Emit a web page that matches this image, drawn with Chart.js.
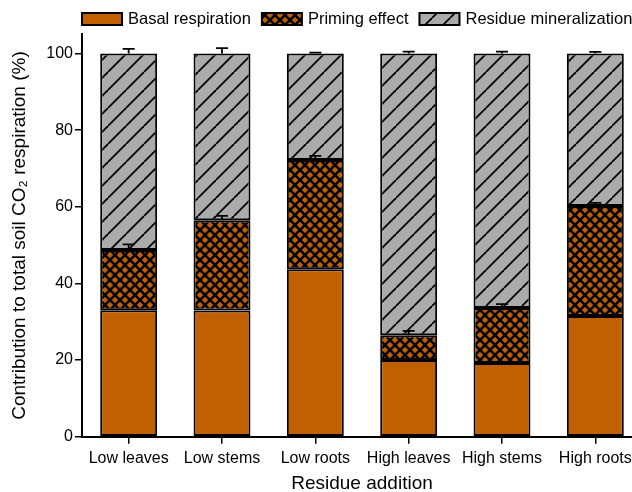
<!DOCTYPE html>
<html>
<head>
<meta charset="utf-8">
<script src="https://cdn.jsdelivr.net/npm/chart.js@4"></script>
<style>
  html, body { margin: 0; padding: 0; background: #ffffff; overflow: hidden; }
  #wrap { width: 632px; height: 492px; overflow: hidden; }
  #c { display: block; }
</style>
</head>
<body>
<div id="wrap"><canvas id="c" width="642" height="492"></canvas></div>
<script>
// ---- data ----
const categories = ['Low leaves', 'Low stems', 'Low roots', 'High leaves', 'High stems', 'High roots'];
const seriesNames = ['Basal respiration', 'Priming effect', 'Residue mineralization'];
const basal = [33.0, 32.9, 43.7, 20.0, 19.2, 31.5];
const priming = [15.7, 23.6, 28.5, 6.5, 14.4, 28.7];
const residue = [51.3, 43.5, 27.8, 73.5, 66.4, 39.8];
const primingErr = [1.5, 1.1, 1.1, 1.1, 1.0, 0.8];
const residueErr = [1.2, 1.4, 0.2, 0.5, 0.5, 0.4];
const yTicks = [0, 20, 40, 60, 80, 100];

const FONT = "'Liberation Sans', Arial, 'DejaVu Sans', sans-serif";
const ORANGE = 'rgb(192,96,0)';
const GRAY = 'rgb(171,171,171)';

function crossPattern() {
  const s = 10;
  const c = document.createElement('canvas');
  c.width = s; c.height = s;
  const g = c.getContext('2d');
  g.fillStyle = ORANGE; g.fillRect(0, 0, s, s);
  g.strokeStyle = '#000'; g.lineWidth = 2.6;
  for (const o of [-s, 0, s]) {
    g.beginPath(); g.moveTo(o, 0); g.lineTo(o + s, s); g.stroke();
    g.beginPath(); g.moveTo(o + s, 0); g.lineTo(o, s); g.stroke();
  }
  return g.createPattern(c, 'repeat');
}
function hatchPattern() {
  const s = 18;
  const c = document.createElement('canvas');
  c.width = s; c.height = s;
  const g = c.getContext('2d');
  g.fillStyle = GRAY; g.fillRect(0, 0, s, s);
  g.strokeStyle = '#000'; g.lineWidth = 1.8;
  for (const o of [-s, 0, s]) {
    g.beginPath(); g.moveTo(o, s); g.lineTo(o + s, 0); g.stroke();
  }
  return g.createPattern(c, 'repeat');
}

const fills = [ORANGE, crossPattern(), hatchPattern()];
const values = [basal, priming, residue];
const errs = [null, primingErr, residueErr];

const datasets = seriesNames.map((name, i) => ({
  label: name,
  data: values[i],
  backgroundColor: fills[i],
  borderColor: '#000',
  borderWidth: 2,
  borderSkipped: false,
  barPercentage: 0.61,
  categoryPercentage: 1.0,
  errUp: errs[i]
}));

const errorBars = {
  id: 'errorBars',
  afterDatasetsDraw(chart) {
    const ctx = chart.ctx;
    const y = chart.scales.y;
    ctx.save();
    ctx.strokeStyle = '#000';
    ctx.lineWidth = 1.8;
    chart.data.datasets.forEach((ds, di) => {
      if (!ds.errUp) return;
      const meta = chart.getDatasetMeta(di);
      meta.data.forEach((bar, k) => {
        let top = 0;
        for (let j = 0; j <= di; j++) top += chart.data.datasets[j].data[k];
        const y0 = y.getPixelForValue(top);
        const y1 = y.getPixelForValue(top + ds.errUp[k]);
        const x = bar.x;
        ctx.beginPath();
        ctx.moveTo(x, y0); ctx.lineTo(x, y1);
        ctx.moveTo(x - 6, y1); ctx.lineTo(x + 6, y1);
        ctx.stroke();
      });
    });
    ctx.restore();
  }
};

const customLegend = {
  id: 'customLegend',
  afterDraw(chart) {
    const ctx = chart.ctx;
    ctx.save();
    ctx.font = '16.5px ' + FONT;
    ctx.textBaseline = 'middle';
    ctx.textAlign = 'left';
    let x = 82;
    const yc = 19;
    chart.data.datasets.forEach((ds) => {
      ctx.fillStyle = ds.backgroundColor;
      ctx.fillRect(x, yc - 6, 40, 12);
      ctx.strokeStyle = '#000';
      ctx.lineWidth = 2;
      ctx.strokeRect(x, yc - 6, 40, 12);
      ctx.fillStyle = '#000';
      ctx.fillText(ds.label, x + 46, yc + 0.5);
      x += 46 + ctx.measureText(ds.label).width + 11;
    });
    ctx.restore();
  }
};

new Chart(document.getElementById('c'), {
  type: 'bar',
  data: { labels: categories, datasets: datasets },
  plugins: [errorBars, customLegend],
  options: {
    responsive: false,
    animation: false,
    devicePixelRatio: 1,
    layout: { padding: { left: 0, right: 0, top: 34.3, bottom: 0 } },
    plugins: { legend: { display: false }, tooltip: { enabled: false } },
    scales: {
      x: {
        stacked: true,
        afterFit(s) { s.height = 55.3; },
        border: { display: true, color: '#000', width: 2 },
        grid: { drawOnChartArea: false, drawTicks: true, tickLength: 7, color: '#000', lineWidth: 1.5, offset: false },
        ticks: { color: '#000', font: { family: FONT, size: 16 }, padding: 5, maxRotation: 0, autoSkip: false },
        title: { display: true, text: 'Residue addition', color: '#000', font: { family: FONT, size: 19, lineHeight: 0.9 }, padding: { top: 0, bottom: 0 } }
      },
      y: {
        stacked: true,
        min: 0,
        max: 105,
        afterFit(s) { s.width = 82; },
        afterBuildTicks(s) { s.ticks = yTicks.map(v => ({ value: v })); },
        border: { display: true, color: '#000', width: 2 },
        grid: { drawOnChartArea: false, drawTicks: true, tickLength: 7, color: '#000', lineWidth: 1.5 },
        ticks: { color: '#000', font: { family: FONT, size: 16 }, padding: 2, includeBounds: false, stepSize: 20 },
        title: { display: true, text: 'Contribution to total soil CO₂ respiration (%)', color: '#000', font: { family: FONT, size: 19 }, padding: { top: 8, bottom: 0 } }
      }
    }
  }
});
</script>
</body>
</html>
